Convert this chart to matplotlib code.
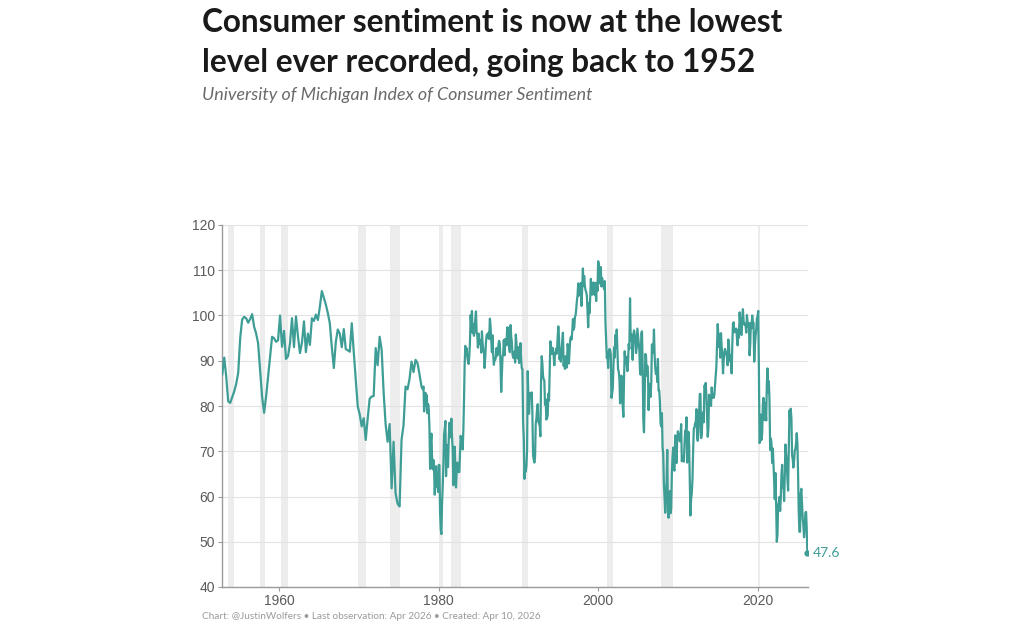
import matplotlib
matplotlib.use("Agg")
import matplotlib.pyplot as plt
import matplotlib.dates as mdates
import pandas as pd

# ---------------- data ----------------
# Quarterly readings (Feb/May/Aug/Nov), Nov 1952 - Nov 1977
early_start = "1952-11"
early_values = [
    87.0,
    90.7, 86.5, 81.0, 80.7,
    82.0, 83.2, 84.9, 87.3,
    95.0, 99.1, 99.7, 99.4,
    98.4, 99.2, 100.3, 97.5,
    96.0, 93.9, 88.0, 82.0,
    78.5, 82.0, 86.5, 90.9,
    95.3, 95.0, 94.2, 94.5,
    100.0, 93.1, 96.6, 90.4,
    91.0, 93.8, 99.4, 93.0,
    99.8, 95.5, 91.7, 94.0,
    98.7, 91.9, 96.0, 93.5,
    99.4, 98.8, 100.2, 99.0,
    102.0, 105.4, 103.9, 102.4,
    100.5, 98.3, 93.0, 88.4,
    94.2, 96.9, 96.0, 93.0,
    97.0, 92.6, 92.3, 92.0,
    98.3, 92.0, 86.0, 79.9,
    78.1, 75.5, 77.3, 72.5,
    77.3, 81.6, 82.1, 82.2,
    92.8, 89.0, 95.3, 92.4,
    82.9, 76.0, 72.1, 76.0,
    61.8, 72.1, 60.7, 58.4,
    57.8, 72.5, 75.8, 84.3,
    83.7, 86.0, 89.8, 87.5,
    90.2, 89.5, 87.0, 84.3,
]

# Monthly readings, Jan 1978 - Apr 2026
monthly_start = "1978-01"
monthly_values = [
    83.7, 84.3, 78.8, 81.6, 82.9, 80.0, 82.4, 78.4, 80.4, 79.3, 75.0, 66.1,   # 1978
    72.1, 73.9, 68.4, 66.0, 68.1, 65.8, 60.4, 64.5, 66.7, 62.1, 63.3, 61.0,   # 1979
    67.0, 66.9, 56.5, 52.7, 51.7, 58.7, 62.3, 67.3, 73.7, 75.0, 76.7, 64.5,   # 1980
    71.4, 66.9, 66.5, 72.4, 76.3, 73.1, 74.1, 77.2, 73.1, 70.3, 62.5, 64.3,   # 1981
    71.0, 66.5, 62.0, 65.5, 67.5, 65.7, 65.4, 65.4, 69.3, 73.4, 72.1, 71.9,   # 1982
    70.4, 74.6, 80.8, 89.1, 93.3, 92.2, 92.8, 90.9, 89.9, 89.3, 91.1, 94.2,   # 1983
    100.1, 97.4, 101.0, 96.1, 98.1, 95.5, 96.6, 99.1, 100.9, 96.3, 95.7, 92.9,  # 1984
    96.0, 93.7, 93.7, 94.6, 91.8, 96.5, 94.0, 92.4, 92.1, 88.4, 90.9, 93.9,   # 1985
    95.6, 95.9, 95.1, 96.2, 94.8, 99.3, 97.7, 94.9, 91.9, 95.6, 91.4, 89.1,   # 1986
    90.4, 90.2, 90.8, 92.8, 91.1, 91.5, 93.7, 94.4, 93.6, 89.3, 83.1, 86.8,   # 1987
    90.8, 91.6, 94.6, 91.2, 94.8, 94.7, 93.4, 97.4, 97.3, 94.1, 93.0, 91.9,   # 1988
    97.9, 95.4, 94.3, 91.5, 90.7, 90.6, 92.0, 89.6, 95.8, 93.9, 90.9, 90.5,   # 1989
    93.0, 89.5, 91.3, 93.9, 90.6, 88.3, 88.2, 76.4, 72.8, 63.9, 66.0, 65.5,   # 1990
    66.8, 70.4, 87.7, 81.8, 78.3, 82.1, 82.9, 82.0, 83.0, 78.3, 69.1, 68.2,   # 1991
    67.5, 68.8, 76.0, 77.2, 79.2, 80.4, 76.6, 76.1, 75.6, 73.3, 85.3, 91.0,   # 1992
    89.3, 86.6, 85.9, 85.6, 80.3, 81.5, 77.0, 77.3, 77.9, 82.7, 81.2, 88.2,   # 1993
    94.3, 93.2, 91.5, 92.6, 92.8, 91.2, 89.0, 91.7, 91.5, 92.7, 91.6, 95.1,   # 1994
    97.6, 95.1, 90.3, 92.5, 89.8, 92.7, 94.4, 96.2, 88.9, 90.2, 88.2, 91.0,   # 1995
    89.3, 88.5, 93.7, 92.7, 89.4, 92.4, 94.7, 95.3, 94.7, 96.5, 99.2, 96.9,   # 1996
    97.4, 99.7, 100.0, 101.4, 103.2, 104.5, 107.1, 104.4, 106.0, 105.6, 107.2, 102.1,  # 1997
    106.6, 110.4, 106.5, 108.7, 106.5, 105.6, 105.2, 104.4, 100.9, 97.4, 102.7, 100.5,  # 1998
    103.9, 108.1, 105.7, 104.6, 106.8, 107.3, 106.0, 104.5, 107.2, 103.2, 107.2, 105.4,  # 1999
    112.0, 111.3, 107.1, 109.2, 110.7, 106.4, 108.3, 107.3, 106.8, 105.8, 107.6, 98.4,  # 2000
    94.7, 90.6, 91.5, 88.4, 92.0, 92.6, 92.4, 91.5, 81.8, 82.7, 83.9, 88.8,   # 2001
    93.0, 90.7, 95.7, 93.0, 96.9, 92.4, 88.1, 87.6, 86.1, 80.6, 84.2, 86.7,   # 2002
    82.4, 79.9, 77.6, 86.0, 92.1, 89.7, 90.9, 89.3, 87.7, 89.6, 93.7, 92.6,   # 2003
    103.8, 94.4, 95.8, 94.2, 90.2, 95.6, 96.7, 95.9, 94.2, 91.7, 92.8, 97.1,  # 2004
    95.5, 94.1, 92.6, 87.7, 86.9, 96.0, 96.5, 89.1, 76.9, 74.2, 81.6, 91.5,   # 2005
    91.2, 86.7, 88.9, 87.4, 79.1, 84.9, 84.7, 82.0, 85.4, 93.6, 92.1, 91.7,   # 2006
    96.9, 91.3, 88.4, 87.1, 88.3, 85.3, 90.4, 83.4, 83.4, 80.9, 76.1, 75.5,   # 2007
    78.4, 70.8, 69.5, 62.6, 59.8, 56.4, 61.2, 63.0, 70.3, 57.6, 55.3, 60.1,   # 2008
    61.2, 56.3, 57.3, 65.1, 68.7, 70.8, 66.0, 65.7, 73.5, 70.6, 67.4, 72.5,   # 2009
    74.4, 73.6, 73.6, 72.2, 73.6, 76.0, 67.8, 68.9, 68.2, 67.7, 71.6, 74.5,   # 2010
    74.2, 77.5, 67.5, 69.8, 74.3, 71.5, 63.7, 55.8, 59.5, 60.8, 63.7, 69.9,   # 2011
    75.0, 75.3, 76.2, 76.4, 79.3, 73.2, 72.3, 74.3, 78.3, 82.6, 82.7, 72.9,   # 2012
    73.8, 77.6, 78.6, 76.4, 84.5, 84.1, 85.1, 82.1, 77.5, 73.2, 75.1, 82.5,   # 2013
    81.2, 81.6, 80.0, 84.1, 81.9, 82.5, 81.8, 82.5, 84.6, 86.9, 88.8, 93.6,   # 2014
    98.1, 95.4, 93.0, 95.9, 90.7, 96.1, 93.1, 91.9, 87.2, 90.0, 91.3, 92.6,   # 2015
    92.0, 91.7, 91.0, 89.0, 94.7, 93.5, 90.0, 89.8, 91.2, 87.2, 93.8, 98.2,   # 2016
    98.5, 96.3, 96.9, 97.0, 97.1, 95.0, 93.4, 96.8, 95.1, 100.7, 98.5, 95.9,  # 2017
    95.7, 99.7, 101.4, 98.8, 98.0, 98.2, 97.9, 96.2, 100.1, 98.6, 97.5, 98.3,  # 2018
    91.2, 93.8, 98.4, 97.2, 100.0, 98.2, 98.4, 89.8, 93.2, 95.5, 96.8, 99.3,  # 2019
    99.8, 101.0, 89.1, 71.8, 72.3, 78.1, 72.5, 74.1, 80.4, 81.8, 76.9, 80.7,  # 2020
    79.0, 76.8, 84.9, 88.3, 82.9, 85.5, 81.2, 70.3, 72.8, 71.7, 67.4, 70.6,   # 2021
    67.2, 62.8, 59.4, 65.2, 58.4, 50.0, 51.5, 58.2, 58.6, 59.9, 56.8, 59.7,   # 2022
    64.9, 67.0, 62.0, 63.5, 59.0, 64.2, 71.5, 69.4, 67.9, 63.8, 61.3, 69.7,   # 2023
    79.0, 76.9, 79.4, 77.2, 69.1, 68.2, 66.4, 67.9, 70.1, 70.5, 71.8, 74.0,   # 2024
    71.7, 64.7, 57.0, 52.2, 52.2, 60.7, 61.7, 58.2, 55.1, 53.6, 51.0, 52.9,   # 2025
    56.4, 56.6, 53.3, 47.6,                                                 # 2026
]

# NBER recessions (start, end)
recession_starts = ["1953-07", "1957-08", "1960-04", "1969-12", "1973-11",
                    "1980-01", "1981-07", "1990-07", "2001-03", "2007-12", "2020-02"]
recession_ends = ["1954-05", "1958-04", "1961-02", "1970-11", "1975-03",
                  "1980-07", "1982-11", "1991-03", "2001-11", "2009-06", "2020-04"]

y_ticks = [40, 50, 60, 70, 80, 90, 100, 110, 120]
x_tick_years = [1960, 1980, 2000, 2020]

title_lines = ["Consumer sentiment is now at the lowest",
               "level ever recorded, going back to 1952"]
subtitle = "University of Michigan Index of Consumer Sentiment"
footer = "Chart: @JustinWolfers \u2022 Last observation: Apr 2026 \u2022 Created: Apr 10, 2026"

# ---------------- build series ----------------
early_dates = pd.date_range(early_start, periods=len(early_values), freq="3MS")
monthly_dates = pd.date_range(monthly_start, periods=len(monthly_values), freq="MS")
dates = list(early_dates) + list(monthly_dates)
values = list(early_values) + list(monthly_values)
series = pd.Series(values, index=pd.DatetimeIndex(dates))

TEAL = "#3e9d95"

fig = plt.figure(figsize=(10.18, 6.28), dpi=100)
ax = fig.add_axes([222 / 1018, 1 - 587 / 628, (808 - 222) / 1018, (587 - 225) / 628])

for s, e in zip(recession_starts, recession_ends):
    ax.axvspan(pd.Timestamp(s), pd.Timestamp(e), color="#ededed", lw=0, zorder=0)

ax.plot(series.index, series.values, color=TEAL, lw=1.6, zorder=3,
        solid_joinstyle="round")
ax.plot([series.index[-1]], [series.values[-1]], "o", color=TEAL, ms=3.5, zorder=4)
ax.annotate(f"{series.values[-1]:.1f}", (series.index[-1], series.values[-1]),
            xytext=(4, 0), textcoords="offset points", va="center", ha="left",
            color=TEAL, fontsize=10, family="Lato", annotation_clip=False)

ax.set_ylim(40, 120)
ax.set_yticks(y_ticks)
ax.set_xlim(pd.Timestamp("1952-10-20"), pd.Timestamp("2026-05-01"))
ax.set_xticks([pd.Timestamp(f"{y}-01-01") for y in x_tick_years])
ax.xaxis.set_major_formatter(mdates.DateFormatter("%Y"))

ax.grid(axis="y", color="#e2e2e2", lw=0.8, zorder=1)
ax.grid(axis="x", visible=False)
for side in ["top", "right"]:
    ax.spines[side].set_visible(False)
for side in ["left", "bottom"]:
    ax.spines[side].set_color("#9a9a9a")
    ax.spines[side].set_linewidth(1.0)
ax.tick_params(axis="both", colors="#9a9a9a", labelcolor="#5a5a5a",
               labelsize=10, length=3, width=0.8, pad=2)
for lab in ax.get_xticklabels() + ax.get_yticklabels():
    lab.set_family("Liberation Sans")

x0 = 202 / 1018
fig.text(x0, 1 - 32 / 628, title_lines[0], family="Lato", weight="bold",
         fontsize=22.7, color="#1a1a1a", va="baseline", ha="left")
fig.text(x0, 1 - 72 / 628, title_lines[1], family="Lato", weight="bold",
         fontsize=22.7, color="#1a1a1a", va="baseline", ha="left")
fig.text(x0, 1 - 100 / 628, subtitle, family="Lato", style="italic",
         fontsize=12.9, color="#6a6a6a", va="baseline", ha="left")
fig.text(x0, 1 - 619 / 628, footer, family="Lato", fontsize=7.2,
         color="#9a9a9a", va="baseline", ha="left")

fig.savefig("out.png", dpi=100)
